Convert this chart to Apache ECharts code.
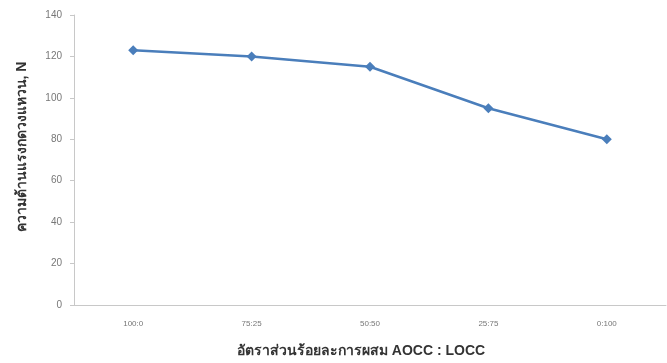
<!DOCTYPE html>
<html>
<head>
<meta charset="utf-8">
<script src="https://cdn.jsdelivr.net/npm/echarts@6/dist/echarts.min.js"></script>
<style>
html,body{margin:0;padding:0;background:#fff;}
#chart{width:667px;height:363px;}
</style>
</head>
<body>
<div id="chart"></div>
<script>
// Mix ratios (AOCC : LOCC) and measured ring crush resistance
var ratios = ['100:0', '75:25', '50:50', '25:75', '0:100'];
var crushForce = [123, 120, 115, 95, 80];
var yTicks = { min: 0, max: 140, interval: 20 };

var chart = echarts.init(document.getElementById('chart'));
chart.setOption({
  animation: false,
  grid: { left: 74, right: 1, top: 15, bottom: 58 },
  xAxis: {
    type: 'category',
    data: ratios,
    boundaryGap: true,
    name: 'อัตราส่วนร้อยละการผสม AOCC : LOCC',
    nameLocation: 'middle',
    nameGap: 39,
    nameTextStyle: { fontSize: 14, fontWeight: 'bold', color: '#333', fontFamily: 'sans-serif', padding: [0, 18, 0, 0] },
    axisLine: { lineStyle: { color: '#c8c8c8', width: 1 } },
    axisTick: { show: false },
    axisLabel: { fontSize: 8, color: '#777', margin: 15 }
  },
  yAxis: {
    type: 'value',
    min: yTicks.min,
    max: yTicks.max,
    interval: yTicks.interval,
    name: 'ความต้านแรงกดวงแหวน, N',
    nameLocation: 'middle',
    nameGap: 45,
    nameTextStyle: { fontSize: 14, fontWeight: 'bold', color: '#333', fontFamily: 'sans-serif', padding: [0, 0, 0, 26] },
    axisLine: { show: true, lineStyle: { color: '#c8c8c8', width: 1 } },
    axisTick: { show: true, length: 4, lineStyle: { color: '#c8c8c8' } },
    splitLine: { show: false },
    axisLabel: { fontSize: 10, color: '#777', margin: 12 }
  },
  series: [{
    type: 'line',
    data: crushForce,
    symbol: 'diamond',
    symbolSize: 10,
    lineStyle: { color: '#4a7ebb', width: 2.5 },
    itemStyle: { color: '#4a7ebb' }
  }]
});
</script>
</body>
</html>
